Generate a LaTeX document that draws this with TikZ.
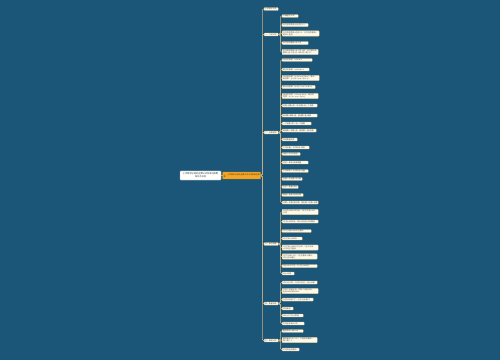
\documentclass[tikz,border=0pt]{standalone}
\usepackage{fontspec}
\setmainfont{Noto Sans CJK SC}
\definecolor{bg}{HTML}{1B5578}
\definecolor{linec}{HTML}{C9B27C}
\definecolor{leaffill}{HTML}{FFF9E8}
\definecolor{leafline}{HTML}{E2CF9E}
\definecolor{leaftext}{HTML}{4A4A4A}
\definecolor{orangefill}{HTML}{F6A623}
\definecolor{orangeline}{HTML}{E08E0B}
\tikzset{
  box/.style={draw=leafline, fill=leaffill, line width=0.3pt, rounded corners=0.6pt,
    inner xsep=1pt, inner ysep=0.6pt, font=\fontsize{1.9}{2.25}\selectfont,
    text=leaftext, align=left, anchor=west},
  rootbox/.style={draw=gray!60, fill=white, line width=0.3pt, rounded corners=0.6pt,
    inner xsep=1pt, inner ysep=2.1pt, font=\fontsize{2.2}{2.8}\selectfont,
    text=black!80, align=center, text width=39pt},
  orangebox/.style={draw=orangeline, fill=orangefill, line width=0.3pt, rounded corners=0.6pt,
    inner xsep=1pt, inner ysep=1.4pt, font=\fontsize{1.9}{2.3}\selectfont,
    text=black!80, align=left, anchor=west, text width=36pt},
  conn/.style={draw=linec, line width=0.6pt, rounded corners=1.2pt},
}
\newcommand\br[3]{\node[box, text width=12pt] (#1) at (264,#2) {#3};
  \draw[conn] (orange.east) -- ++(1.5,0) |- (#1.west);}
\newcommand\lf[5]{\node[box, text width=#3pt] (#1) at (282,#2) {#5};
  \draw[conn] (#4.east) -- ++(2,0) |- (#1.west);}
\begin{document}
\begin{tikzpicture}[x=1pt,y=-1pt]
\fill[bg] (0,0) rectangle (500,360);
\useasboundingbox (0,0) rectangle (500,360);

\node[rootbox] (root) at (200.5,175.5) {小学数学必背的运算公式及单位换算\\知识点总结};
\node[orangebox] (orange) at (222.5,175.5) {一、小学数学必背的运算公式与常用单位换\\算：};
\draw[conn] (root.east) -- (orange.west);

\br{b1}{9}{小学数学公式}
\br{b2}{34.5}{一、几何公式}
\br{b3}{132.5}{二、运算定律}
\br{b4}{244}{三、单位换算}
\br{b5}{303.5}{四、数量关系}
\br{b6}{340.5}{五、其他公式}

% branch 2
\lf{l21}{16}{14}{b2}{平面图形公式：}
\lf{l22}{25}{24}{b2}{长方形的周长=(长+宽)×2}
\lf{l23}{33.5}{35}{b2}{正方形的周长=边长×4，正方形的面积=\\边长×边长}
\lf{l24}{43}{24}{b2}{长方形的面积=长×宽}
\lf{l25}{52}{34}{b2}{长方体的体积=长×宽×高，长方体的表\\面积=(长×宽+长×高+宽×高)×2}

% branch 3
\lf{l31}{60}{28}{b3}{加法交换律：a+b=b+a}
\lf{l32}{69.5}{25}{b3}{乘法交换律：a×b=b×a}
\lf{l33}{78}{35}{b3}{加法结合律：(a+b)+c=a+(b+c)，乘法\\结合律：(a×b)×c=a×(b×c)}
\lf{l34}{87}{31}{b3}{乘法分配律：(a+b)×c=a×c+b×c}
\lf{l35}{96}{34}{b3}{减法的性质：a-b-c=a-(b+c)，除法的\\性质：a÷b÷c=a÷(b×c)}
\lf{l36}{105.5}{33}{b3}{加数+加数=和，和-加数=另一个加数}
\lf{l37}{115.5}{33}{b3}{被减数-减数=差，被减数-差=减数}
\lf{l38}{123.5}{27}{b3}{一个因数=积÷另一个因数}
\lf{l39}{130.5}{32}{b3}{被除数÷除数=商，被除数÷商=除数}
\lf{l310}{139.5}{13}{b3}{常用数量关系}
\lf{l311}{147.5}{25}{b3}{工作总量÷工作时间=效率}
\lf{l312}{154}{16}{b3}{速度×时间=路程}
\lf{l313}{162.5}{24}{b3}{总价÷单价=商品数量}
\lf{l314}{171}{24}{b3}{工作效率×工作时间=总量}
\lf{l315}{179}{18}{b3}{总数÷总份数=平均数}
\lf{l316}{187}{14}{b3}{总价÷数量=单价}
\lf{l317}{195}{19}{b3}{路程÷速度=所用时间}
\lf{l318}{202.5}{34}{b3}{总数÷份数=每份数，每份数×份数=总数}

% branch 4
\lf{l41}{212}{34}{b4}{1公顷=10000平方米，1平方千米=100\\公顷}
\lf{l42}{221.5}{34}{b4}{1千米=1000米，1米=10分米=100厘米}
\lf{l43}{231}{27}{b4}{1平方分米=100平方厘米}
\lf{l44}{238.5}{18}{b4}{1立方米=1000升}
\lf{l45}{247.5}{34}{b4}{1立方米=1000立方分米，1立方分米\\=1000立方厘米}
\lf{l46}{256.5}{33}{b4}{1立方分米=1升，1立方厘米=1毫升，\\1升=1000毫升}
\lf{l47}{266}{33}{b4}{1吨=1000千克，1千克=1000克}
\lf{l48}{273.5}{10}{b4}{1元=10角}

% branch 5
\lf{l51}{282.5}{33}{b5}{1日=24小时，1小时=60分，1分=60秒}
\lf{l52}{291}{34}{b5}{平年二月有28天，闰年二月有29天，\\全年365天或366天}
\lf{l53}{299.5}{29}{b5}{大月31天有7个，小月30天有4个}
\lf{l54}{308.5}{9}{b5}{时间单位}
\lf{l55}{315.5}{19}{b5}{1年=12个月=4季度}
\lf{l56}{323.5}{20}{b5}{平年全年有365天}

% branch 6
\lf{l61}{331}{19}{b6}{圆的周长=πd=2πr}
\lf{l62}{340}{33}{b6}{圆的面积=π×r×r，三角形的面积=\\底×高÷2}
\lf{l63}{349.5}{15}{b6}{平行四边形面积}
\end{tikzpicture}
\end{document}
